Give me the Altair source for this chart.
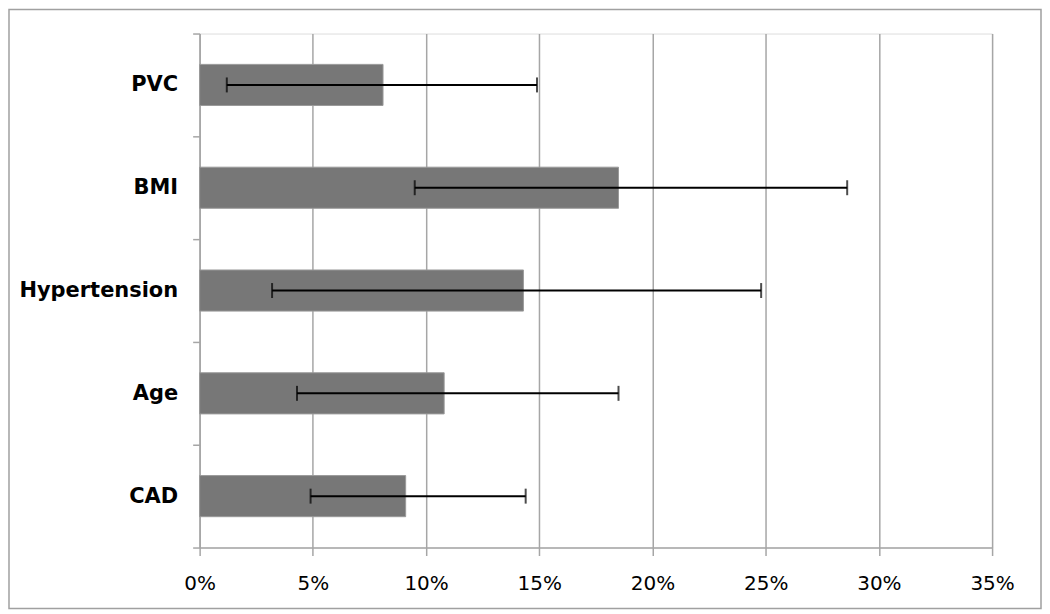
import altair as alt
import pandas as pd

categories = ["PVC", "BMI", "Hypertension", "Age", "CAD"]
values = [0.081, 0.185, 0.143, 0.108, 0.091]
lows = [0.012, 0.095, 0.032, 0.043, 0.049]
highs = [0.149, 0.286, 0.248, 0.185, 0.144]
x_ticks = [0, 0.05, 0.10, 0.15, 0.20, 0.25, 0.30, 0.35]

df = pd.DataFrame({"cat": categories, "value": values, "low": lows, "high": highs})

W, H = 794, 515
GRID = "#a6a6a6"

y_enc = alt.Y(
    "cat:N",
    sort=categories,
    title=None,
    scale=alt.Scale(paddingInner=0, paddingOuter=0),
    axis=alt.Axis(
        tickBand="extent",
        labelFont="DejaVu Sans",
        labelFontWeight="bold",
        labelFontSize=21,
        labelColor="black",
        labelPadding=15,
        tickSize=7,
        tickColor=GRID,
        tickWidth=1.5,
        domainColor=GRID,
        domainWidth=1.5,
        grid=False,
    ),
)

x_scale = alt.Scale(domain=[0, 0.35], nice=False)
x_axis = alt.Axis(
    values=x_ticks,
    format=".0%",
    labelFont="DejaVu Sans",
    labelFontSize=20,
    labelColor="black",
    labelPadding=18,
    labelFlush=False,
    tickSize=8,
    tickColor=GRID,
    tickWidth=1.5,
    domainColor=GRID,
    domainWidth=1.5,
    grid=True,
    gridColor=GRID,
    gridWidth=1.5,
    gridOpacity=1,
)

base = alt.Chart(df)

bars = base.mark_bar(
    color="#777777", stroke="#9a9a9a", strokeWidth=1, height={"band": 0.4}
).encode(
    x=alt.X("value:Q", scale=x_scale, axis=x_axis, title=None),
    y=y_enc,
)

rules = base.mark_rule(color="black", strokeWidth=2).encode(
    x="low:Q", x2="high:Q", y=alt.Y("cat:N", sort=categories)
)

tick_low = base.mark_tick(color="black", thickness=2, size=15).encode(
    x="low:Q", y=alt.Y("cat:N", sort=categories)
)
tick_high = base.mark_tick(color="black", thickness=2, size=15).encode(
    x="high:Q", y=alt.Y("cat:N", sort=categories)
)

frame = alt.Chart(pd.DataFrame({"a": [0]})).mark_rect(
    fill=None, stroke="#a0a0a0", strokeWidth=1.5, clip=False
).encode(
    x=alt.value(-191), x2=alt.value(843), y=alt.value(-24), y2=alt.value(576)
)

chart = (
    alt.layer(bars, rules, tick_low, tick_high, frame)
    .properties(
        width=W,
        height=H,
        autosize=alt.AutoSizeParams(type="none"),
        padding={"left": 192, "top": 25, "right": 50, "bottom": 64},
    )
    .configure_view(stroke=None)
    .configure(background="white")
)

chart.save("out.html", embed_options={"renderer": "svg", "actions": False})
